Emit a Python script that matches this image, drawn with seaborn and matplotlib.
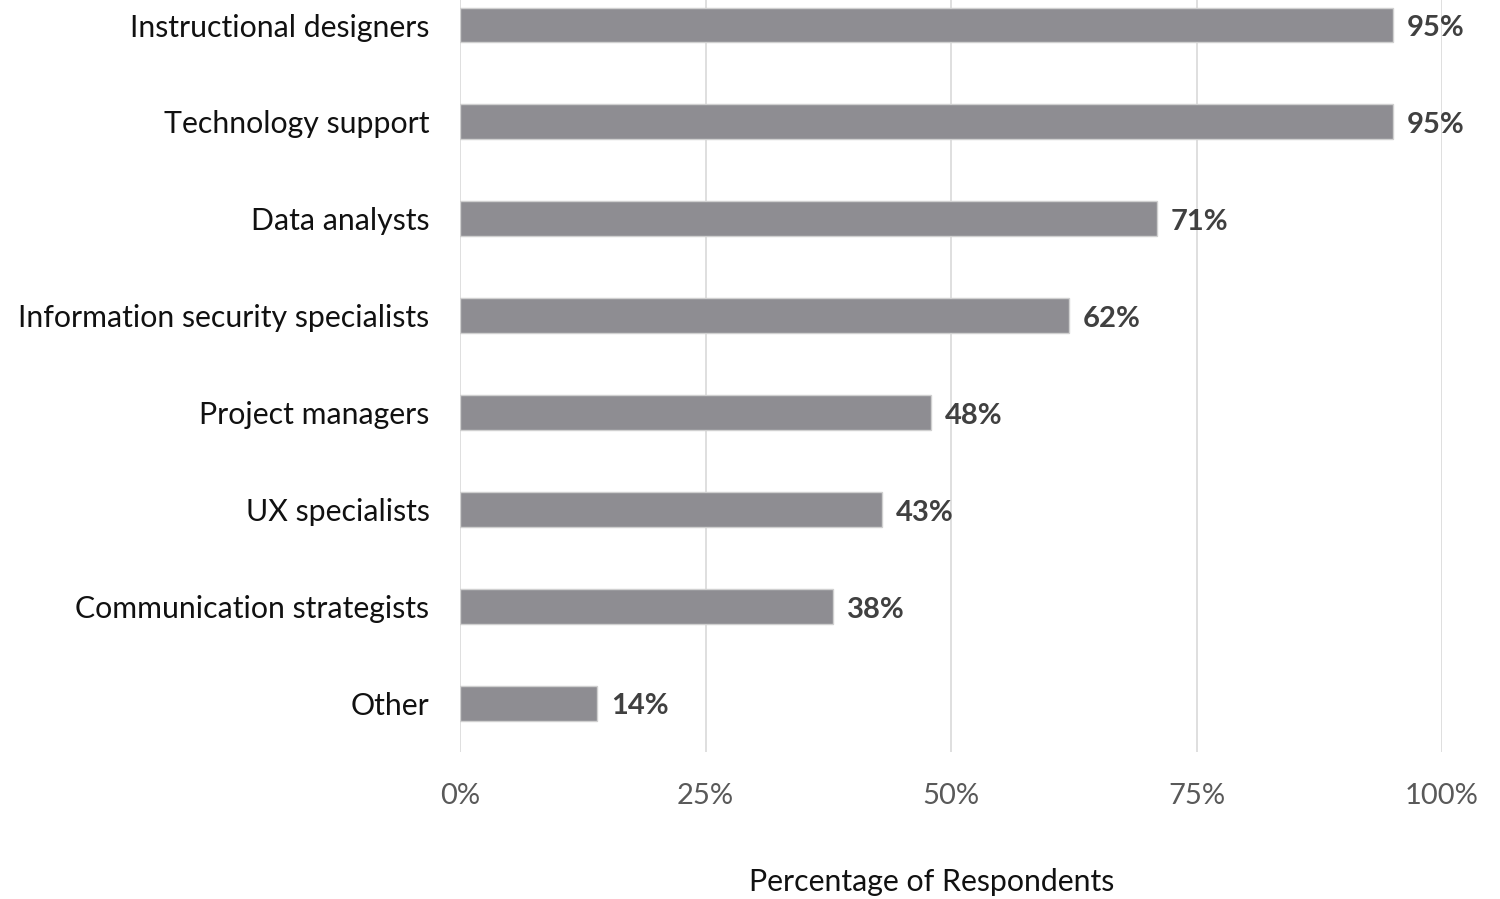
import matplotlib
matplotlib.use("Agg")
import matplotlib.pyplot as plt
import pandas as pd
import seaborn as sns

# 數據
categories = [
    "Instructional designers",
    "Technology support",
    "Data analysts",
    "Information security specialists",
    "Project managers",
    "UX specialists",
    "Communication strategists",
    "Other",
]
percentages = [95, 95, 71, 62, 48, 43, 38, 14]
x_ticks = [0, 25, 50, 75, 100]
x_tick_labels = ["0%", "25%", "50%", "75%", "100%"]

df = pd.DataFrame({"category": categories, "pct": percentages})

sns.set_theme(style="white")
plt.rcParams["font.family"] = ["Lato", "DejaVu Sans"]

fig = plt.figure(figsize=(15, 8.99), dpi=100)
ax = fig.add_axes([460 / 1500, 1 - 752 / 899, 982 / 1500, 752 / 899])

sns.barplot(data=df, x="pct", y="category", orient="h", color="#8e8d92",
            saturation=1, width=0.36, edgecolor="#d0d0d0", linewidth=1,
            ax=ax, zorder=3)

# 數值標籤
for i, v in enumerate(percentages):
    ax.text(v + 1.4, i + 0.03, f"{v}%", va="center", ha="left",
            fontsize=21, fontweight="bold", color="#404040")

ax.set_xlim(0, 100)
ax.set_ylim(7.5, -0.258)
ax.set_xticks(x_ticks)
ax.set_xticklabels(x_tick_labels, fontsize=21, color="#595959")
ax.tick_params(axis="x", length=0, pad=22)
ax.tick_params(axis="y", length=0, pad=22, labelsize=21.8, labelcolor="#111111")
ax.xaxis.grid(True, color="#d9d9d9", linewidth=1.2, zorder=0)
ax.yaxis.grid(False)
for s in ax.spines.values():
    s.set_visible(False)

ax.set_ylabel("")
ax.set_xlabel("Percentage of Respondents", fontsize=21.8, color="#111111")
ax.xaxis.set_label_coords((932 - 460) / 982, -(882 - 752) / 752, transform=ax.transAxes)
ax.xaxis.label.set_va("center")

fig.savefig("out.png", dpi=100)
